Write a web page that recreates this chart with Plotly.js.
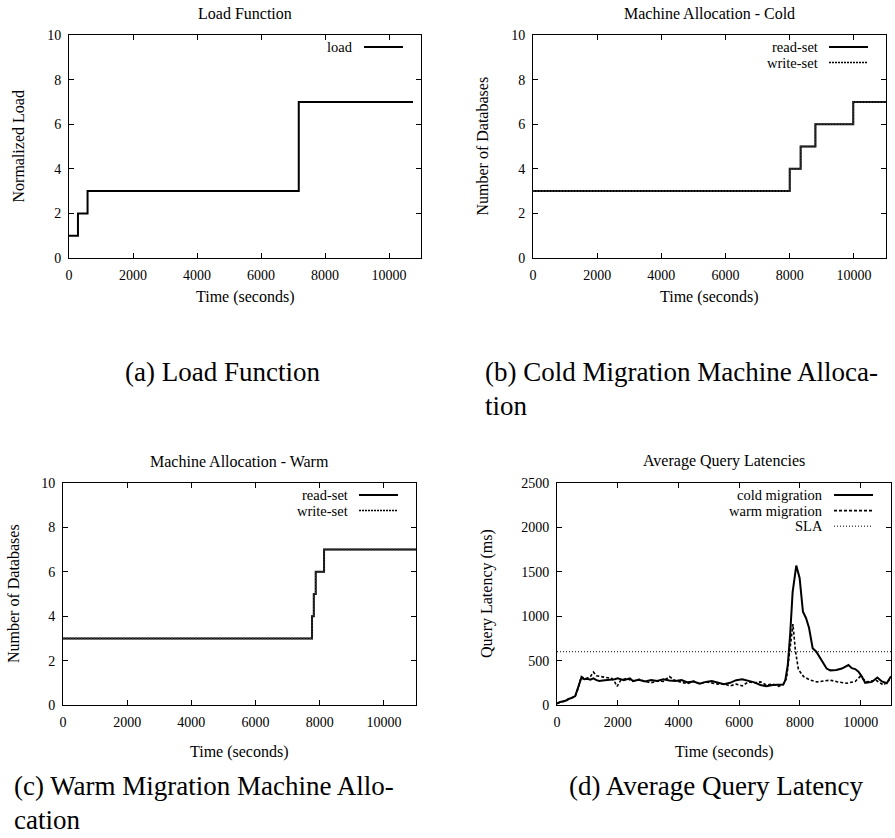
<!DOCTYPE html>
<html><head><meta charset="utf-8">
<script src="https://cdn.plot.ly/plotly-3.0.1.min.js"></script>
<style>body{margin:0;background:#fff}#c{width:895px;height:838px}</style>
</head><body><div id="c"></div>
<script>
// ---------- data ----------
const loadTime = [0, 280, 580, 7180, 10750];
const loadValue = [1, 2, 3, 7, 7];

const coldAllocTime = [0, 8000, 8340, 8800, 9980, 11000];
const coldReadSet = [3, 4, 5, 6, 7, 7];
const coldWriteSet = [3, 4, 5, 6, 7, 7];

const warmAllocTime = [0, 7760, 7815, 7875, 8135, 11000];
const warmReadSet = [3, 4, 5, 6, 7, 7];
const warmWriteSet = [3, 4, 5, 6, 7, 7];

const coldLatTime = [0,100,200,300,400,500,600,700,800,900,1000,1100,1200,1300,1400,1500,1700,1900,2000,2100,2200,2400,2500,2700,2900,3100,3300,3500,3700,3900,4100,4300,4500,4700,4900,5100,5300,5500,5700,5900,6100,6300,6500,6700,6900,7100,7300,7450,7520,7600,7680,7760,7880,7990,8100,8200,8300,8420,8540,8720,8880,9000,9200,9380,9600,9710,9820,9930,10040,10150,10370,10550,10700,10860,11000];
const coldLatency = [20,35,40,50,70,80,100,200,305,290,295,285,300,280,270,275,280,290,300,290,280,300,270,285,265,280,270,290,275,270,280,255,265,240,260,270,250,235,250,280,290,270,255,225,210,225,225,230,280,450,800,1270,1570,1430,1050,980,870,640,600,505,410,390,395,410,450,415,405,375,320,250,260,310,265,245,325];

const warmLatTime = [0,200,400,600,700,800,900,1000,1100,1200,1300,1450,1600,1800,1900,1980,2100,2300,2500,2700,2900,3100,3300,3500,3700,3900,4100,4300,4500,4700,4900,5100,5300,5500,5700,5900,6100,6300,6500,6700,6900,7100,7300,7450,7560,7680,7770,7850,7950,8120,8340,8560,8800,9000,9250,9545,9820,9980,10200,10500,10750,10950];
const warmLatency = [15,40,70,100,190,320,300,305,320,370,330,320,310,300,260,210,280,300,265,290,265,250,270,265,320,275,255,240,270,240,260,250,235,240,215,235,215,260,250,260,225,235,210,230,300,650,910,620,400,320,280,260,270,280,260,245,265,320,260,280,225,280];

const slaTime = [0, 11000];
const slaLatency = [600, 600];

const xTickVals = [0, 2000, 4000, 6000, 8000, 10000];
const xTickText = ['0', '2000', '4000', '6000', '8000', '10000'];

// ---------- layout helpers ----------
const W = 895, H = 838;
const px = x => x / W, py = y => 1 - y / H;
const SERIF = 'Liberation Serif, Times New Roman, serif';
// plot boxes in pixels: [left, right, top, bottom]
const boxes = [[69, 421, 35, 258], [533, 886, 35, 258], [63, 416, 483, 705], [557, 891, 483, 705]];

const solid = {color: '#000', width: 2};
const dotted = {color: '#333', width: 1.5, dash: '2px,1px'};
const dashed = {color: '#000', width: 1.6, dash: '3px,2px'};
const slaLine = {color: '#000', width: 1, dash: '1px,2px'};

const traces = [
  {x: loadTime, y: loadValue, line: Object.assign({shape: 'hv'}, solid), xaxis: 'x', yaxis: 'y'},
  {x: coldAllocTime, y: coldReadSet, line: Object.assign({shape: 'hv'}, solid), xaxis: 'x2', yaxis: 'y2'},
  {x: coldAllocTime, y: coldWriteSet, line: Object.assign({shape: 'hv'}, dotted), xaxis: 'x2', yaxis: 'y2'},
  {x: warmAllocTime, y: warmReadSet, line: Object.assign({shape: 'hv'}, solid), xaxis: 'x3', yaxis: 'y3'},
  {x: warmAllocTime, y: warmWriteSet, line: Object.assign({shape: 'hv'}, dotted), xaxis: 'x3', yaxis: 'y3'},
  {x: coldLatTime, y: coldLatency, line: solid, xaxis: 'x4', yaxis: 'y4'},
  {x: warmLatTime, y: warmLatency, line: dashed, xaxis: 'x4', yaxis: 'y4'},
  {x: slaTime, y: slaLatency, line: slaLine, xaxis: 'x4', yaxis: 'y4'}
].map(t => Object.assign({type: 'scatter', mode: 'lines', showlegend: false, hoverinfo: 'skip'}, t));

function xAxis(b, anchor) {
  return {domain: [px(b[0]), px(b[1])], anchor: anchor, range: [0, 11000], tickvals: xTickVals, ticktext: xTickText,
    showline: true, linecolor: '#000', linewidth: 1, mirror: 'allticks', ticks: 'inside', ticklen: 5, tickcolor: '#000',
    showgrid: false, zeroline: false, fixedrange: true, tickfont: {family: SERIF, size: 14, color: '#000'}, ticklabelstandoff: 4};
}
function yAxis(b, anchor, max, dtick) {
  return {domain: [py(b[3]), py(b[2])], anchor: anchor, range: [0, max], dtick: dtick, tick0: 0,
    showline: true, linecolor: '#000', linewidth: 1, mirror: 'allticks', ticks: 'inside', ticklen: 5, tickcolor: '#000',
    showgrid: false, zeroline: false, fixedrange: true, tickfont: {family: SERIF, size: 14, color: '#000'}, ticklabelstandoff: 4};
}

const annotations = [];
const shapes = [];
function txt(text, x, y, opts) {
  annotations.push(Object.assign({text: text, x: px(x), y: py(y), xref: 'paper', yref: 'paper', showarrow: false,
    xanchor: 'center', yanchor: 'middle', borderpad: 0, font: {family: SERIF, size: 16, color: '#000'}}, opts || {}));
}

const titles = ['Load Function', 'Machine Allocation - Cold', 'Machine Allocation - Warm', 'Average Query Latencies'];
const yTitles = ['Normalized Load', 'Number of Databases', 'Number of Databases', 'Query Latency (ms)'];
const yTitleX = [18, 482, 13, 487];
const xTitleY = [297, 297, 752, 752];
boxes.forEach((b, i) => {
  txt(titles[i], (b[0] + b[1]) / 2, b[2] - 22);
  txt('Time (seconds)', (b[0] + b[1]) / 2, xTitleY[i]);
  txt(yTitles[i], yTitleX[i], (b[2] + b[3]) / 2, {textangle: -90});
});

const legendSample = {color: '#000', width: 1.5, dash: '2px,1px'};
const legends = [
  [['load', solid]],
  [['read-set', solid], ['write-set', legendSample]],
  [['read-set', solid], ['write-set', legendSample]],
  [['cold migration', solid], ['warm migration', dashed], ['SLA', slaLine]]
];
legends.forEach((items, i) => {
  const b = boxes[i];
  items.forEach((it, j) => {
    const y = b[2] + 12 + j * 15.6;
    txt(it[0], b[1] - 67, y, {xanchor: 'right', font: {family: SERIF, size: 14.5, color: '#000'}});
    shapes.push({type: 'line', xref: 'paper', yref: 'paper', x0: px(b[1] - 57), x1: px(b[1] - 18), y0: py(y), y1: py(y),
      line: {color: it[1].color, width: it[1].width, dash: it[1].dash || 'solid'}});
  });
});

// captions
const capFont = {family: SERIF, size: 27, color: '#000'};
txt('(a) Load Function', 222, 372, {font: capFont});
txt('(b) Cold Migration Machine Alloca-', 484, 372, {font: capFont, xanchor: 'left'});
txt('tion', 484, 406, {font: capFont, xanchor: 'left'});
txt('(c) Warm Migration Machine Allo-', 13, 786, {font: capFont, xanchor: 'left'});
txt('cation', 13, 820, {font: capFont, xanchor: 'left'});
txt('(d) Average Query Latency', 716, 786, {font: capFont});

const layout = {
  width: W, height: H, margin: {l: 0, r: 0, t: 0, b: 0},
  paper_bgcolor: '#fff', plot_bgcolor: '#fff', showlegend: false,
  font: {family: SERIF, color: '#000'},
  xaxis: xAxis(boxes[0], 'y'), yaxis: yAxis(boxes[0], 'x', 10, 2),
  xaxis2: xAxis(boxes[1], 'y2'), yaxis2: yAxis(boxes[1], 'x2', 10, 2),
  xaxis3: xAxis(boxes[2], 'y3'), yaxis3: yAxis(boxes[2], 'x3', 10, 2),
  xaxis4: xAxis(boxes[3], 'y4'), yaxis4: yAxis(boxes[3], 'x4', 2500, 500),
  annotations: annotations, shapes: shapes
};

Plotly.newPlot('c', traces, layout, {displayModeBar: false, staticPlot: true});
</script></body></html>
